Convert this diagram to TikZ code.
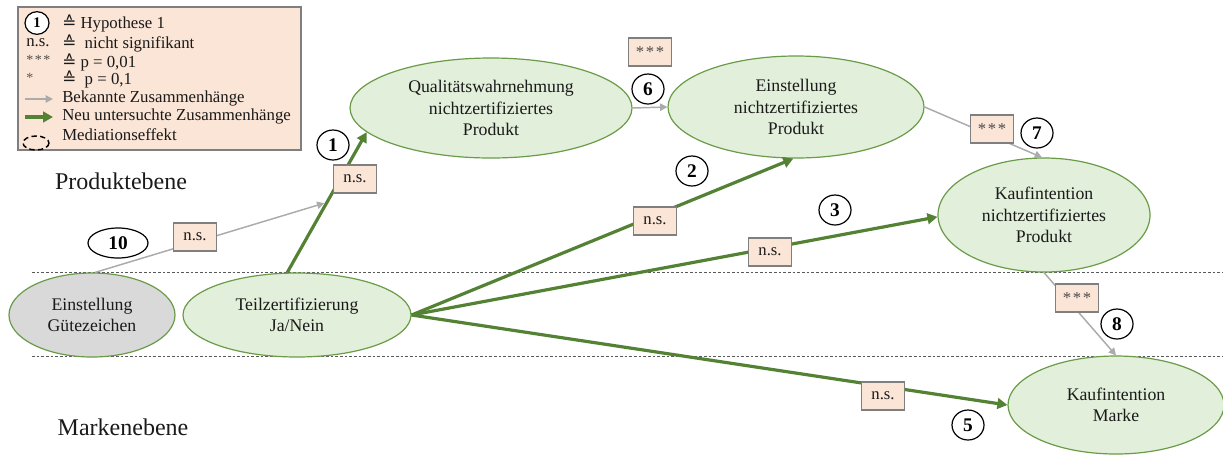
\documentclass[tikz,border=0pt]{standalone}
\usepackage{fontspec}
\setmainfont{Liberation Serif}
\newfontfamily\symfont{DejaVu Sans}
\usetikzlibrary{shapes.geometric,arrows.meta}

\definecolor{ellfill}{HTML}{E2EFDA}
\definecolor{ellline}{HTML}{6A9B48}
\definecolor{arrgreen}{HTML}{548235}
\definecolor{arrgray}{HTML}{ABABAB}
\definecolor{boxfill}{HTML}{FBE5D6}
\definecolor{boxline}{HTML}{7F7F7F}
\definecolor{guetefill}{HTML}{D9D9D9}
\definecolor{txt}{HTML}{1A1A1A}

\newcommand{\corr}{{\symfont\char"2259}}
\newcommand{\stars}{\textcolor{black!70}{*\kern1.2pt*\kern1.2pt*}}

\tikzset{
  construct/.style={ellipse, draw=ellline, fill=ellfill, line width=0.9pt,
    inner sep=0pt, align=center, text=txt, font=\fontsize{13.3}{16.2}\selectfont},
  sigbox/.style={rectangle, draw=boxline, fill=boxfill, line width=0.8pt,
    minimum width=32.25pt, minimum height=21pt, inner sep=0pt, text=txt,
    font=\fontsize{12.5}{13}\selectfont},
  hyp/.style={ellipse, draw=black, fill=white, line width=0.9pt,
    minimum width=24pt, minimum height=22.5pt, inner sep=0pt,
    font=\bfseries\fontsize{14.5}{14}\selectfont},
  known/.style={draw=arrgray, line width=1.1pt,
    -{Triangle[length=5.5pt,width=5.5pt]}},
  newrel/.style={draw=arrgreen, line width=2.4pt,
    -{Triangle[length=7.5pt,width=8pt]}},
  level/.style={font=\fontsize{18}{20}\selectfont, text=txt, inner sep=0pt},
  legtxt/.style={anchor=west, inner sep=0pt, text=txt,
    font=\fontsize{12.6}{14}\selectfont},
  separator/.style={draw=black!65, line width=0.5pt, dash pattern=on 2pt off 1.5pt}
}

\begin{document}
\begin{tikzpicture}[x=0.75pt, y=-0.75pt]
\useasboundingbox (0,0) rectangle (1223,455);

% level separators
\draw[separator] (32,272) -- (1223,272);
\draw[separator] (32,356) -- (1223,356);

% level labels
\node[level] (prodlevel) at (121,181) {Produktebene};
\node[level] (marklevel) at (123,427) {Markenebene};

% constructs
\node[construct, minimum width=211.5pt, minimum height=75pt] (qual) at (491,108)
  {Qualitätswahrnehmung\\nichtzertifiziertes\\Produkt};
\node[construct, minimum width=192pt, minimum height=76.5pt] (einst) at (796,107)
  {Einstellung\\nichtzertifiziertes\\Produkt};
\node[construct, minimum width=159pt, minimum height=85.5pt] (kaufp) at (1044,215)
  {Kaufintention\\nichtzertifiziertes\\Produkt};
\node[construct, minimum width=162pt, minimum height=73.5pt] (kaufm) at (1116,405)
  {Kaufintention\\Marke};
\node[construct, fill=guetefill, minimum width=124.5pt, minimum height=63pt] (guete) at (92,315)
  {Einstellung\\Gütezeichen};
\node[construct, minimum width=171pt, minimum height=63pt] (teil) at (297,315)
  {Teilzertifizierung\\Ja/Nein};

% newly examined relations
\draw[newrel] (teil.103) -- coordinate[pos=0.5] (mid1) (qual.191.7);
\draw[newrel] (teil.east) -- (einst.267);
\draw[newrel] (teil.east) -- (kaufp.181);
\draw[newrel] (teil.east) -- (kaufm.180);

% known relations
\draw[known, shorten >=2pt] (guete.86) -- (mid1);
\draw[known] (qual.east) -- (einst.west);
\draw[known] (einst.east) -- (kaufp.92);
\draw[known] (kaufp.south) -- (kaufm.north);

% significance labels
\node[sigbox] (s1)  at (355,179) {n.s.};
\node[sigbox] (s10) at (195,237) {n.s.};
\node[sigbox] (s2)  at (655,221) {n.s.};
\node[sigbox] (s3)  at (770,252) {n.s.};
\node[sigbox] (s5)  at (883,396) {n.s.};
\node[sigbox] (s6)  at (650,52)  {\stars};
\node[sigbox] (s7)  at (992,129) {\stars};
\node[sigbox] (s8)  at (1077,298) {\stars};

% hypothesis numbers
\node[hyp] (h1) at (333,145) {1};
\node[hyp] (h2) at (692,171) {2};
\node[hyp] (h3) at (835,210) {3};
\node[hyp] (h5) at (968,425) {5};
\node[hyp] (h6) at (648,89)  {6};
\node[hyp] (h7) at (1037,133) {7};
\node[hyp] (h8) at (1117,324) {8};
\node[hyp, minimum width=45pt] (h10) at (118,243) {10};

% legend
\node[draw=boxline, fill=boxfill, line width=0.8pt, minimum width=212.25pt,
  minimum height=107.25pt, inner sep=0pt] (legend) at (159.5,78.5) {};
\node[hyp, minimum width=18pt, minimum height=17pt,
  font=\bfseries\fontsize{11}{11}\selectfont] (lh) at (37,23) {1};
\node[legtxt] (l1) at (62,23) {\corr\ Hypothese 1};
\node[legtxt] (l2a) at (26,43) {n.s.};
\node[legtxt] (l2) at (62,43) {\corr\ \ nicht signifikant};
\node[legtxt, font=\fontsize{10.5}{12}\selectfont] (l3a) at (26,60) {\stars};
\node[legtxt] (l3) at (62,62) {\corr\ p = 0,01};
\node[legtxt, text=black!65, font=\fontsize{10.5}{12}\selectfont] (l4a) at (26,78) {*};
\node[legtxt] (l4) at (62,79) {\corr\ \ p = 0,1};
\coordinate (g1) at (25,99);
\coordinate (g2) at (53,99);
\draw[known] (g1) -- (g2);
\node[legtxt] (l5) at (62,98) {Bekannte Zusammenhänge};
\coordinate (n1) at (25,117);
\coordinate (n2) at (53,117);
\draw[newrel] (n1) -- (n2);
\node[legtxt] (l6) at (62,116) {Neu untersuchte Zusammenhänge};
\draw[black, line width=1.1pt, dash pattern=on 4pt off 2.5pt] (36,143) ellipse [x radius=13, y radius=7];
\node[legtxt] (l7) at (62,135) {Mediationseffekt};
\end{tikzpicture}
\end{document}
